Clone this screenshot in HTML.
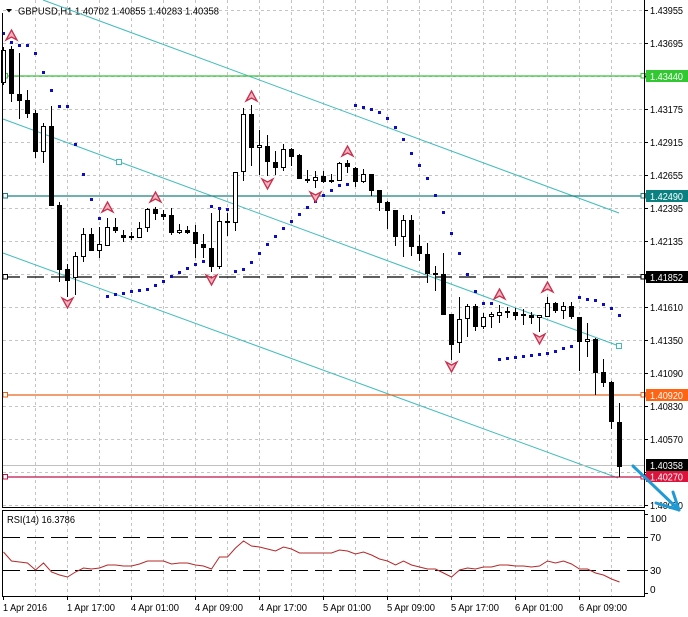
<!DOCTYPE html>
<html><head><meta charset="utf-8"><style>html,body{margin:0;padding:0;background:#fff;width:688px;height:617px;overflow:hidden}svg{display:block}</style></head>
<body>
<svg width="688" height="617" viewBox="0 0 688 617" xmlns="http://www.w3.org/2000/svg" font-family="Liberation Sans, sans-serif" font-size="10">
<rect width="688" height="617" fill="#fff"/>
<!-- grid main -->
<path d="M35.5 0V507M67.5 0V507M99.5 0V507M131.5 0V507M163.5 0V507M195.5 0V507M227.5 0V507M259.5 0V507M291.5 0V507M323.5 0V507M355.5 0V507M387.5 0V507M419.5 0V507M451.5 0V507M483.5 0V507M515.5 0V507M547.5 0V507M579.5 0V507M611.5 0V507" stroke="#c4c4c4" stroke-dasharray="3,3" fill="none"/>
<path d="M3 10.5H644M3 43.5H644M3 76.5H644M3 109.5H644M3 142.5H644M3 175.5H644M3 208.5H644M3 241.5H644M3 274.5H644M3 307.5H644M3 340.5H644M3 373.5H644M3 406.5H644M3 439.5H644M3 472.5H644M3 505.5H644" stroke="#c4c4c4" stroke-dasharray="3,3" fill="none"/>
<!-- grid rsi -->
<path d="M35.5 511V596M67.5 511V596M99.5 511V596M131.5 511V596M163.5 511V596M195.5 511V596M227.5 511V596M259.5 511V596M291.5 511V596M323.5 511V596M355.5 511V596M387.5 511V596M419.5 511V596M451.5 511V596M483.5 511V596M515.5 511V596M547.5 511V596M579.5 511V596M611.5 511V596" stroke="#c4c4c4" stroke-dasharray="3,3" fill="none"/>

<!-- header -->
<polygon points="6,9 12,9 9,12.5" fill="#000"/>
<text x="18" y="14.5" textLength="201" lengthAdjust="spacingAndGlyphs" fill="#000">GBPUSD,H1  1.40702 1.40855 1.40283 1.40358</text>

<!-- trend lines -->
<g stroke="#40bcbc" stroke-width="1" fill="none">
<line x1="43" y1="0" x2="619" y2="213"/>
<line x1="3" y1="119" x2="619" y2="346"/>
<line x1="3" y1="253" x2="618" y2="478"/>
<rect x="116.5" y="159.5" width="5" height="5" fill="#fff"/>
<rect x="616.5" y="343.5" width="5" height="5" fill="#fff"/>
</g>

<!-- horizontal levels -->
<line x1="3" y1="76" x2="644" y2="76" stroke="#3cc23c" stroke-width="1.2"/>
<rect x="3" y="73.5" width="4.5" height="4.5" fill="#fff" stroke="#3cc23c"/>
<rect x="641" y="73.5" width="4.5" height="4.5" fill="#fff" stroke="#3cc23c"/>
<line x1="3" y1="196" x2="644" y2="196" stroke="#1a8080" stroke-width="1.2"/>
<rect x="3" y="193.5" width="4.5" height="4.5" fill="#fff" stroke="#1a8080"/>
<rect x="641" y="193.5" width="4.5" height="4.5" fill="#fff" stroke="#1a8080"/>
<line x1="3" y1="277" x2="644" y2="277" stroke="#000" stroke-width="1.2" stroke-dasharray="17,7"/>
<rect x="3" y="274.5" width="4.5" height="4.5" fill="#fff" stroke="#000"/>
<rect x="641" y="274.5" width="4.5" height="4.5" fill="#fff" stroke="#000"/>
<line x1="3" y1="395" x2="644" y2="395" stroke="#e8641e" stroke-width="1.2"/>
<rect x="3" y="392.5" width="4.5" height="4.5" fill="#fff" stroke="#e8641e"/>
<rect x="641" y="392.5" width="4.5" height="4.5" fill="#fff" stroke="#e8641e"/>
<line x1="3" y1="465.5" x2="644" y2="465.5" stroke="#c0c0c0" stroke-width="1"/>
<line x1="3" y1="477" x2="644" y2="477" stroke="#c0144a" stroke-width="1.2"/>
<rect x="3" y="474.5" width="4.5" height="4.5" fill="#fff" stroke="#c0144a"/>
<rect x="641" y="474.5" width="4.5" height="4.5" fill="#fff" stroke="#c0144a"/>

<!-- wicks -->
<path stroke="#000" stroke-width="1" fill="none" d="M3.5 47V85M11.5 46V102M19.5 53V119M27.5 90V118M35.5 110V158M43.5 123V163M51.5 106V206M59.5 202V282M67.5 264V297M75.5 252V295M83.5 228V262M91.5 228V251M99.5 227V258M107.5 218V246M115.5 218V233M123.5 230V242M131.5 232V240M139.5 222V238M147.5 208V232M155.5 207V220M163.5 210V220M171.5 208V235M179.5 224V234M187.5 226V234M195.5 225V258M203.5 234V258M211.5 213V272M219.5 208V269M227.5 213V236M235.5 172V231M243.5 108V181M251.5 105V166M259.5 130V175M267.5 135V176M275.5 151V175M283.5 144V171M291.5 148V166M299.5 154V179M307.5 170V183M315.5 171V188M323.5 171V183M331.5 174V183M339.5 162V181M347.5 160V173M355.5 167V187M363.5 169V183M371.5 174V196M379.5 190V211M387.5 201V229M395.5 210V246M403.5 215V257M411.5 215V256M419.5 235V261M427.5 243V283M435.5 266V291M443.5 253V315M451.5 314V360M459.5 297V353M467.5 304V337M475.5 304V331M483.5 313V329M491.5 312V328M499.5 305V323M507.5 307V318M515.5 308V320M523.5 309V325M531.5 312V324M539.5 315V332M547.5 297V317M555.5 302V313M563.5 302V319M571.5 302V319M579.5 317V371M587.5 323V357M595.5 338V395M603.5 359V387M611.5 381V429M619.5 403V477"/>
<!-- black bodies -->
<path fill="#000" d="M9 49h5v45h-5zM17 94h5v7h-5zM25 100h5v14h-5zM33 113h5v39h-5zM49 126h5v80h-5zM57 205h5v65h-5zM65 269h5v12h-5zM89 234h5v17h-5zM113 227h5v4h-5zM121 235h5v3h-5zM129 236h5v2h-5zM153 209h5v5h-5zM161 214h5v3h-5zM169 215h5v18h-5zM185 230h5v3h-5zM193 232h5v12h-5zM201 244h5v4h-5zM209 248h5v19h-5zM225 221h5v2h-5zM249 114h5v34h-5zM265 146h5v16h-5zM273 162h5v6h-5zM289 149h5v8h-5zM297 155h5v24h-5zM305 179h5v2h-5zM321 176h5v6h-5zM329 180h5v2h-5zM345 163h5v4h-5zM353 168h5v14h-5zM369 174h5v17h-5zM377 190h5v13h-5zM385 202h5v9h-5zM393 210h5v27h-5zM409 220h5v27h-5zM417 246h5v8h-5zM425 254h5v20h-5zM433 273h5v2h-5zM441 274h5v41h-5zM449 314h5v31h-5zM473 306h5v21h-5zM505 311h5v2h-5zM513 312h5v4h-5zM521 314h5v2h-5zM529 315h5v3h-5zM553 303h5v8h-5zM569 306h5v11h-5zM577 317h5v25h-5zM593 339h5v34h-5zM601 372h5v11h-5zM609 382h5v40h-5zM617 422h5v45h-5z"/>
<!-- hollow bodies -->
<g fill="#fff" stroke="#000" stroke-width="1">
<rect x="1.5" y="50.5" width="4" height="32"/>
<rect x="41.5" y="126.5" width="4" height="25"/>
<rect x="73.5" y="256.5" width="4" height="21"/>
<rect x="81.5" y="234.5" width="4" height="22"/>
<rect x="97.5" y="244.5" width="4" height="6"/>
<rect x="105.5" y="227.5" width="4" height="18"/>
<rect x="137.5" y="228.5" width="4" height="9"/>
<rect x="145.5" y="209.5" width="4" height="18"/>
<rect x="177.5" y="230.5" width="4" height="2"/>
<rect x="217.5" y="221.5" width="4" height="45"/>
<rect x="233.5" y="172.5" width="4" height="50"/>
<rect x="241.5" y="114.5" width="4" height="57"/>
<rect x="257.5" y="145.5" width="4" height="2"/>
<rect x="281.5" y="149.5" width="4" height="18"/>
<rect x="313.5" y="177.5" width="4" height="3"/>
<rect x="337.5" y="163.5" width="4" height="17"/>
<rect x="361.5" y="174.5" width="4" height="7"/>
<rect x="401.5" y="220.5" width="4" height="16"/>
<rect x="457.5" y="319.5" width="4" height="23"/>
<rect x="465.5" y="306.5" width="4" height="12"/>
<rect x="481.5" y="317.5" width="4" height="9"/>
<rect x="489.5" y="314.5" width="4" height="2"/>
<rect x="497.5" y="312.5" width="4" height="3"/>
<rect x="537.5" y="315.5" width="4" height="2"/>
<rect x="545.5" y="303.5" width="4" height="13"/>
<rect x="561.5" y="306.5" width="4" height="4"/>
<rect x="585.5" y="339.5" width="4" height="2"/>
</g>

<!-- SAR -->
<path fill="#0c0cc4" d="M2 32h3v3h-3zM10 41h3v3h-3zM18 44h3v3h-3zM26 44h3v3h-3zM34 52h3v3h-3zM42 71h3v3h-3zM50 89h3v3h-3zM58 105h3v3h-3zM66 105h3v3h-3zM74 143h3v3h-3zM82 173h3v3h-3zM90 198h3v3h-3zM98 217h3v3h-3zM106 295h3v3h-3zM114 293h3v3h-3zM122 292h3v3h-3zM130 290h3v3h-3zM138 289h3v3h-3zM146 288h3v3h-3zM154 284h3v3h-3zM162 280h3v3h-3zM170 275h3v3h-3zM178 271h3v3h-3zM186 267h3v3h-3zM194 263h3v3h-3zM202 260h3v3h-3zM210 205h3v3h-3zM218 207h3v3h-3zM226 208h3v3h-3zM234 270h3v3h-3zM242 268h3v3h-3zM250 261h3v3h-3zM258 252h3v3h-3zM266 243h3v3h-3zM274 235h3v3h-3zM282 227h3v3h-3zM290 220h3v3h-3zM298 213h3v3h-3zM306 206h3v3h-3zM314 200h3v3h-3zM322 194h3v3h-3zM330 189h3v3h-3zM338 184h3v3h-3zM346 183h3v3h-3zM354 104h3v3h-3zM362 106h3v3h-3zM370 108h3v3h-3zM378 111h3v3h-3zM386 117h3v3h-3zM394 126h3v3h-3zM402 138h3v3h-3zM410 152h3v3h-3zM418 164h3v3h-3zM426 177h3v3h-3zM434 194h3v3h-3zM442 211h3v3h-3zM450 232h3v3h-3zM458 252h3v3h-3zM466 273h3v3h-3zM474 290h3v3h-3zM482 302h3v3h-3zM490 302h3v3h-3zM498 358h3v3h-3zM506 357h3v3h-3zM514 356h3v3h-3zM522 355h3v3h-3zM530 354h3v3h-3zM538 353h3v3h-3zM546 352h3v3h-3zM554 350h3v3h-3zM562 347h3v3h-3zM570 345h3v3h-3zM578 296h3v3h-3zM586 298h3v3h-3zM594 299h3v3h-3zM602 303h3v3h-3zM610 307h3v3h-3zM618 314h3v3h-3z"/>

<!-- fractals -->
<g fill="#f2b4c2" stroke="#c8304c" stroke-width="1.3" stroke-linejoin="miter">
<path d="M11.5 30L17 40L11.5 37L6 40Z"/>
<path d="M107.5 202L113 212L107.5 209L102 212Z"/>
<path d="M155.5 192L161 202L155.5 199L150 202Z"/>
<path d="M251.5 91L257 101L251.5 98L246 101Z"/>
<path d="M347.5 146L353 156L347.5 153L342 156Z"/>
<path d="M499.5 289L505 299L499.5 296L494 299Z"/>
<path d="M547.5 282L553 292L547.5 289L542 292Z"/>
<path d="M67.5 308L73 298L67.5 301L62 298Z"/>
<path d="M211.5 285L217 275L211.5 278L206 275Z"/>
<path d="M267.5 189L273 179L267.5 182L262 179Z"/>
<path d="M315.5 202L321 192L315.5 195L310 192Z"/>
<path d="M451.5 372L457 362L451.5 365L446 362Z"/>
<path d="M539.5 344L545 334L539.5 337L534 334Z"/>
</g>

<!-- frames -->
<path d="M2.5 13V507.5M644.5 0V507.5M2 507.5H645" stroke="#000" fill="none"/>
<path d="M2.5 510.5H644.5V596.5H2.5Z" stroke="#000" fill="none"/>

<!-- RSI -->
<line x1="3" y1="537.5" x2="644" y2="537.5" stroke="#000" stroke-dasharray="17,7"/>
<line x1="3" y1="570.5" x2="644" y2="570.5" stroke="#000" stroke-dasharray="17,7"/>
<polyline fill="none" stroke="#b4282a" stroke-width="1" points="3.5,552 11.5,561 19.5,562 27.5,563 35.5,570 43.5,563 51.5,572 59.5,575 67.5,577 75.5,572 83.5,568 91.5,569 99.5,568 107.5,565 115.5,565 123.5,566 131.5,566 139.5,564 147.5,561 155.5,561 163.5,561 171.5,564 179.5,563 187.5,563 195.5,565 203.5,566 211.5,569 219.5,557 227.5,557 235.5,548 243.5,541 251.5,546 259.5,547 267.5,549 275.5,551 283.5,547 291.5,549 299.5,553 307.5,553 315.5,553 323.5,553 331.5,553 339.5,550 347.5,551 355.5,554 363.5,552 371.5,555 379.5,559 387.5,561 395.5,565 403.5,561 411.5,565 419.5,567 427.5,569 435.5,569 443.5,573 451.5,577 459.5,570 467.5,568 475.5,569 483.5,567 491.5,567 499.5,565 507.5,565 515.5,566 523.5,566 531.5,567 539.5,566 547.5,561 555.5,563 563.5,561 571.5,564 579.5,569 587.5,569 595.5,573 603.5,575 611.5,579 619.5,582"/>
<text x="7" y="523" textLength="68" lengthAdjust="spacingAndGlyphs" fill="#000">RSI(14) 16.3786</text>

<!-- right axis ticks -->
<path stroke="#000" d="M645 10.5h3M645 43.5h3M645 76.5h3M645 109.5h3M645 142.5h3M645 175.5h3M645 208.5h3M645 241.5h3M645 274.5h3M645 307.5h3M645 340.5h3M645 373.5h3M645 406.5h3M645 439.5h3M645 472.5h3M645 505.5h3M645 514.5h3M645 537.5h3M645 570.5h3M645 593.5h3"/>
<!-- right axis labels -->
<g fill="#000">
<text x="650" y="14" textLength="33" lengthAdjust="spacingAndGlyphs">1.43955</text>
<text x="650" y="47" textLength="33" lengthAdjust="spacingAndGlyphs">1.43695</text>
<text x="650" y="113" textLength="33" lengthAdjust="spacingAndGlyphs">1.43175</text>
<text x="650" y="146" textLength="33" lengthAdjust="spacingAndGlyphs">1.42915</text>
<text x="650" y="179" textLength="33" lengthAdjust="spacingAndGlyphs">1.42655</text>
<text x="650" y="212" textLength="33" lengthAdjust="spacingAndGlyphs">1.42395</text>
<text x="650" y="245" textLength="33" lengthAdjust="spacingAndGlyphs">1.42135</text>
<text x="650" y="311" textLength="33" lengthAdjust="spacingAndGlyphs">1.41610</text>
<text x="650" y="344" textLength="33" lengthAdjust="spacingAndGlyphs">1.41350</text>
<text x="650" y="377" textLength="33" lengthAdjust="spacingAndGlyphs">1.41090</text>
<text x="650" y="410" textLength="33" lengthAdjust="spacingAndGlyphs">1.40830</text>
<text x="650" y="443" textLength="33" lengthAdjust="spacingAndGlyphs">1.40570</text>
<text x="650" y="509" textLength="33" lengthAdjust="spacingAndGlyphs">1.40050</text>
<text x="650" y="522">100</text>
<text x="650" y="541">70</text>
<text x="650" y="574">30</text>
<text x="650" y="593">0</text>
</g>
<!-- colored price tags -->
<rect x="646" y="70" width="42" height="12" fill="#32c832"/>
<text x="650" y="80" fill="#fff" textLength="33" lengthAdjust="spacingAndGlyphs">1.43440</text>
<rect x="646" y="190" width="42" height="12" fill="#0a8080"/>
<text x="650" y="200" fill="#fff" textLength="33" lengthAdjust="spacingAndGlyphs">1.42490</text>
<rect x="646" y="271" width="42" height="12" fill="#000"/>
<text x="650" y="281" fill="#fff" textLength="33" lengthAdjust="spacingAndGlyphs">1.41852</text>
<rect x="646" y="389" width="42" height="12" fill="#ff6414"/>
<text x="650" y="399" fill="#fff" textLength="33" lengthAdjust="spacingAndGlyphs">1.40920</text>
<rect x="646" y="459" width="42" height="12" fill="#000"/>
<text x="650" y="469" fill="#fff" textLength="33" lengthAdjust="spacingAndGlyphs">1.40358</text>
<rect x="646" y="471" width="42" height="11" fill="#dc143c"/>
<text x="650" y="480.5" fill="#fff" textLength="33" lengthAdjust="spacingAndGlyphs">1.40270</text>

<!-- blue arrow -->
<g stroke="#1e9ad6" stroke-width="3" stroke-linecap="round" fill="none">
<line x1="633" y1="466" x2="679" y2="510"/>
<line x1="679" y1="510" x2="673" y2="492"/>
<line x1="679" y1="510" x2="656" y2="503"/>
</g>

<!-- time axis -->
<path stroke="#000" d="M3.5 597v3M67.5 597v3M131.5 597v3M195.5 597v3M259.5 597v3M323.5 597v3M387.5 597v3M451.5 597v3M515.5 597v3M579.5 597v3"/>
<g fill="#000">
<text x="3" y="611" textLength="44" lengthAdjust="spacingAndGlyphs">1 Apr 2016</text>
<text x="67" y="611" textLength="48" lengthAdjust="spacingAndGlyphs">1 Apr 17:00</text>
<text x="131" y="611" textLength="48" lengthAdjust="spacingAndGlyphs">4 Apr 01:00</text>
<text x="195" y="611" textLength="48" lengthAdjust="spacingAndGlyphs">4 Apr 09:00</text>
<text x="259" y="611" textLength="48" lengthAdjust="spacingAndGlyphs">4 Apr 17:00</text>
<text x="323" y="611" textLength="48" lengthAdjust="spacingAndGlyphs">5 Apr 01:00</text>
<text x="387" y="611" textLength="48" lengthAdjust="spacingAndGlyphs">5 Apr 09:00</text>
<text x="451" y="611" textLength="48" lengthAdjust="spacingAndGlyphs">5 Apr 17:00</text>
<text x="515" y="611" textLength="48" lengthAdjust="spacingAndGlyphs">6 Apr 01:00</text>
<text x="579" y="611" textLength="48" lengthAdjust="spacingAndGlyphs">6 Apr 09:00</text>
</g>
</svg>
</body></html>
